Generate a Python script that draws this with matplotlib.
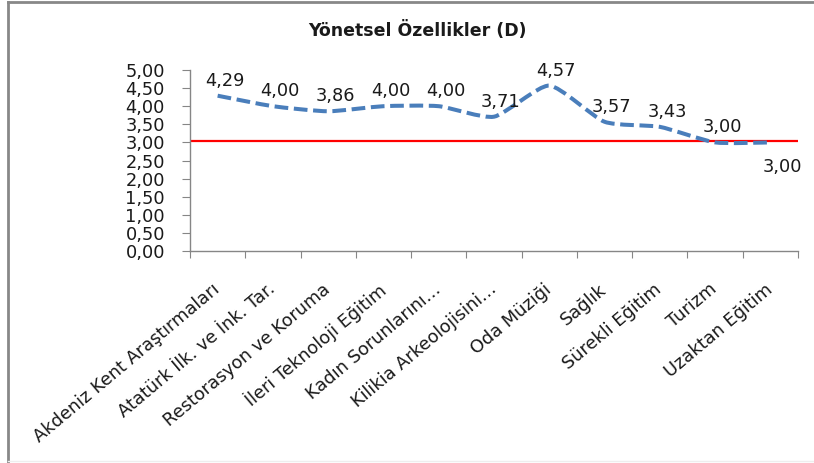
import matplotlib
matplotlib.use("Agg")
import matplotlib.pyplot as plt
import matplotlib.transforms as mtransforms
from matplotlib.path import Path
from matplotlib.patches import PathPatch
from matplotlib.lines import Line2D

# data
categories = ["Akdeniz Kent Araştırmaları", "Atatürk İlk. ve İnk. Tar.",
              "Restorasyon ve Koruma", "İleri Teknoloji Eğitim",
              "Kadın Sorunlarını…", "Kilikia Arkeolojisini…", "Oda Müziği",
              "Sağlık", "Sürekli Eğitim", "Turizm", "Uzaktan Eğitim"]
values = [4.29, 4.00, 3.86, 4.00, 4.00, 3.71, 4.57, 3.57, 3.43, 3.00, 3.00]
labels = ["4,29", "4,00", "3,86", "4,00", "4,00", "3,71", "4,57", "3,57",
          "3,43", "3,00", "3,00"]
reference_level = 3.03
yticks = [0.0, 0.5, 1.0, 1.5, 2.0, 2.5, 3.0, 3.5, 4.0, 4.5, 5.0]
ytick_labels = ["0,00", "0,50", "1,00", "1,50", "2,00", "2,50", "3,00",
                "3,50", "4,00", "4,50", "5,00"]
title = "Yönetsel Özellikler (D)"

BLUE = "#4A7EBB"
GRAY = "#868686"
TEXT = "#1a1a1a"
FONT = "DejaVu Sans"
TENSION = 1 / 10


def smooth_path(xs, ys):
    """Excel-like smoothed line as cubic Bezier segments."""
    n = len(xs)
    verts = [(xs[0], ys[0])]
    codes = [Path.MOVETO]
    for i in range(n - 1):
        p0 = max(i - 1, 0)
        p3 = min(i + 2, n - 1)
        c1 = (xs[i] + (xs[i + 1] - xs[p0]) * TENSION,
              ys[i] + (ys[i + 1] - ys[p0]) * TENSION)
        c2 = (xs[i + 1] - (xs[p3] - xs[i]) * TENSION,
              ys[i + 1] - (ys[p3] - ys[i]) * TENSION)
        verts += [c1, c2, (xs[i + 1], ys[i + 1])]
        codes += [Path.CURVE4] * 3
    return Path(verts, codes)


fig = plt.figure(figsize=(8.14, 4.63), dpi=100)
ax = fig.add_axes([190 / 814, 1 - 251 / 463, 608 / 814, 181 / 463])

x = list(range(len(categories)))
ax.set_xlim(-0.5, len(categories) - 0.5)
ax.set_ylim(0, 5)

ax.axhline(reference_level, color="#FF0000", linewidth=1.6, zorder=2)

patch = PathPatch(smooth_path(x, values), facecolor="none", edgecolor=BLUE,
                  linewidth=2.9, linestyle=(0, (3.4, 1.4)), capstyle="butt",
                  zorder=3)
ax.add_patch(patch)

offsets = [(7, 15)] * (len(values) - 1) + [(12, -25)]
for xi, v, lab, off in zip(x, values, labels, offsets):
    ax.annotate(lab, (xi, v), textcoords="offset pixels", xytext=off,
                ha="center", va="center", fontsize=12.8, family=FONT,
                color=TEXT)

# axes styling
for side in ("top", "right"):
    ax.spines[side].set_visible(False)
for side in ("left", "bottom"):
    ax.spines[side].set_color(GRAY)
    ax.spines[side].set_linewidth(1.0)

ax.set_yticks(yticks)
ax.set_yticklabels(ytick_labels, fontsize=12.8, family=FONT, color=TEXT)
ax.tick_params(axis="y", length=6, color=GRAY, pad=12)

ax.set_xticks([i - 0.5 for i in range(len(categories) + 1)])
ax.set_xticklabels([])
ax.set_xticks(x, minor=True)
ax.set_xticklabels(categories, minor=True, rotation=40, ha="right",
                   rotation_mode="anchor", fontsize=12.8, family=FONT,
                   color=TEXT)
ax.tick_params(axis="x", which="major", length=5, color=GRAY)
ax.tick_params(axis="x", which="minor", length=0, pad=21)
shift = mtransforms.ScaledTranslation(-6 / 100, 0, fig.dpi_scale_trans)
for lbl in ax.get_xticklabels(minor=True):
    lbl.set_transform(lbl.get_transform() + shift)

fig.text(417 / 814, 1 - 30 / 463, title, ha="center", va="center",
         fontsize=12.5, fontweight="bold", family=FONT, color=TEXT)

# outer frame of the chart area (top and left edges)
fig.add_artist(Line2D([8 / 814, 1.0], [1 - 2 / 463, 1 - 2 / 463],
                      transform=fig.transFigure, color="#888888", linewidth=2))
fig.add_artist(Line2D([8 / 814, 8 / 814], [1 - 2 / 463, 0],
                      transform=fig.transFigure, color="#888888", linewidth=2))
fig.add_artist(Line2D([8 / 814, 1.0], [2 / 463, 2 / 463],
                      transform=fig.transFigure, color="#eeeeee", linewidth=1))

fig.savefig("out.png", dpi=100)
